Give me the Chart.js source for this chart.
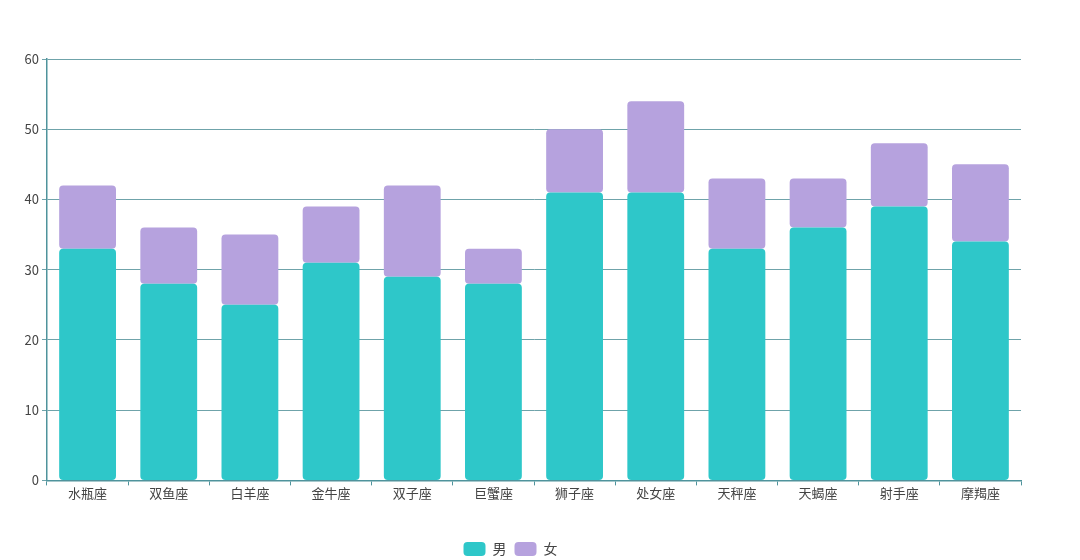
<!DOCTYPE html>
<html>
<head>
<meta charset="utf-8">
<script src="https://cdn.jsdelivr.net/npm/chart.js@4"></script>
<style>
  html, body { margin: 0; padding: 0; background: #fff; }
  #wrap { width: 1080px; height: 560px; }
</style>
</head>
<body>
<div id="wrap"><canvas id="chart" width="1080" height="560"></canvas></div>
<script>
const signs = ["水瓶座", "双鱼座", "白羊座", "金牛座", "双子座", "巨蟹座", "狮子座", "处女座", "天秤座", "天蝎座", "射手座", "摩羯座"]
const male = [33, 28, 25, 31, 29, 28, 41, 41, 33, 36, 39, 34]
const female = [9, 8, 10, 8, 13, 5, 9, 13, 10, 7, 9, 11]
const yTicks = [0, 10, 20, 30, 40, 50, 60]

const axisColor = '#4f939c'
const gridColor = '#6fa3aa'
const fontFamily = '"Noto Sans CJK SC", "Noto Sans", sans-serif'

const radius = { topLeft: 4, topRight: 4, bottomLeft: 4, bottomRight: 4 }

// push the legend a little lower than Chart.js puts it
const legendShift = {
  id: 'legendShift',
  afterLayout(chart) {
    chart.legend.top += 6
    chart.legend.bottom += 6
  }
}

const ctx = document.getElementById('chart').getContext('2d')
new Chart(ctx, {
  type: 'bar',
  data: {
    labels: signs,
    datasets: [
      {
        label: '男',
        data: male,
        backgroundColor: '#2ec7c9',
        borderRadius: radius,
        borderSkipped: false,
        categoryPercentage: 0.7,
        barPercentage: 1
      },
      {
        label: '女',
        data: female,
        backgroundColor: '#b6a2de',
        borderRadius: radius,
        borderSkipped: false,
        categoryPercentage: 0.7,
        barPercentage: 1
      }
    ]
  },
  options: {
    responsive: false,
    animation: false,
    layout: {
      padding: { top: 59, right: 59, left: 0, bottom: 0 }
    },
    scales: {
      x: {
        stacked: true,
        afterFit: (scale) => { scale.height += 27 },
        grid: {
          offset: true,
          drawOnChartArea: false,
          tickLength: 5,
          color: axisColor
        },
        border: { color: axisColor, width: 1.5 },
        ticks: {
          color: '#444',
          font: { family: fontFamily, size: 13 },
          padding: 0,
          maxRotation: 0
        }
      },
      y: {
        stacked: true,
        min: 0,
        max: 60,
        afterFit: (scale) => { scale.width = 47 },
        afterBuildTicks: (scale) => { scale.ticks = yTicks.map(v => ({ value: v })) },
        grid: {
          color: gridColor,
          tickLength: 5,
          lineWidth: 1
        },
        border: { color: axisColor, width: 1.5 },
        ticks: {
          color: '#444',
          font: { family: fontFamily, size: 13 },
          padding: 3
        }
      }
    },
    plugins: {
      legend: {
        position: 'bottom',
        labels: {
          boxWidth: 22,
          boxHeight: 14,
          useBorderRadius: true,
          borderRadius: 4,
          padding: 8,
          color: '#444',
          font: { family: fontFamily, size: 14 }
        }
      },
      tooltip: { enabled: false }
    }
  },
  plugins: [legendShift]
})
</script>
</body>
</html>
